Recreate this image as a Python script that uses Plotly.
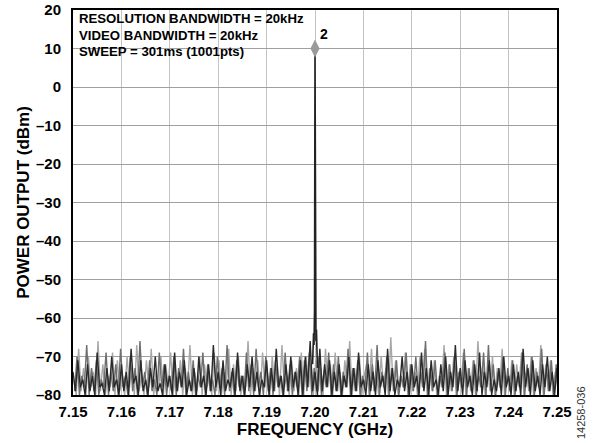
import numpy as np
import plotly.graph_objects as go

# Sweep span (GHz)
f_start, f_stop = 7.15, 7.25

# Noise-floor sweeps (dBm), 201 samples each across the span
noise_dark = [
    -74,-79,-71,-78,-76,-80,-72,-79,-75,-80,-69,-78,-77,-80,-73,-79,-70,-78,-76,-80,
    -72,-79,-74,-80,-68,-77,-75,-80,-71,-79,-76,-80,-73,-78,-70,-79,-77,-80,-72,-78,
    -75,-80,-69,-79,-74,-78,-71,-80,-76,-79,-73,-80,-70,-78,-75,-80,-72,-79,-67,-78,
    -74,-80,-71,-79,-76,-78,-73,-80,-69,-79,-75,-80,-72,-78,-70,-79,-74,-80,-76,-78,
    -71,-80,-73,-79,-68,-78,-75,-80,-72,-79,-70,-78,-74,-80,-71,-80,-70,-78,-66,-79,
    -74,
    -80,-68,-79,-72,-78,-71,-80,-74,-79,-72,-80,-75,-78,-70,-80,-73,-79,-69,-78,-76,
    -80,-72,-79,-74,-80,-71,-78,-75,-80,-68,-79,-73,-80,-76,-78,-70,-79,-74,-80,-72,
    -78,-75,-80,-69,-79,-73,-80,-71,-78,-76,-80,-72,-79,-70,-80,-74,-78,-67,-79,-73,
    -80,-71,-78,-75,-80,-72,-79,-69,-80,-74,-78,-71,-80,-76,-79,-73,-80,-70,-78,-75,
    -80,-72,-79,-74,-80,-68,-78,-73,-80,-71,-79,-75,-80,-72,-78,-70,-79,-74,-80,-73,
]
noise_mid = [
    -79,-70,-80,-75,-78,-67,-80,-73,-79,-71,-80,-76,-78,-69,-80,-74,-79,-72,-80,-68,
    -78,-75,-80,-70,-79,-73,-80,-66,-78,-74,-80,-71,-79,-76,-80,-69,-78,-72,-80,-75,
    -79,-70,-80,-73,-78,-68,-80,-74,-79,-71,-80,-75,-78,-69,-80,-72,-79,-76,-80,-70,
    -78,-73,-80,-67,-79,-74,-80,-71,-78,-75,-80,-69,-79,-72,-80,-68,-78,-74,-80,-70,
    -79,-73,-80,-71,-78,-75,-80,-69,-79,-72,-80,-74,-78,-70,-80,-71,-79,-69,-80,-73,
    -79,
    -70,-80,-74,-78,-69,-80,-72,-79,-70,-80,-74,-78,-68,-80,-73,-79,-71,-80,-75,-78,
    -69,-80,-72,-79,-67,-80,-74,-78,-70,-80,-73,-79,-71,-80,-75,-78,-69,-80,-72,-79,
    -70,-80,-74,-78,-66,-80,-73,-79,-71,-80,-75,-78,-69,-80,-72,-79,-70,-80,-74,-78,
    -68,-80,-73,-79,-71,-80,-75,-78,-69,-80,-67,-79,-72,-80,-74,-78,-70,-80,-73,-79,
    -71,-80,-75,-78,-69,-80,-72,-79,-70,-80,-74,-78,-68,-80,-73,-79,-71,-80,-72,-78,
]
noise_light = [
    -76,-80,-68,-79,-73,-80,-70,-78,-74,-80,-66,-79,-72,-80,-75,-78,-69,-80,-71,-79,
    -74,-80,-70,-78,-73,-80,-67,-79,-75,-80,-71,-78,-68,-80,-74,-79,-70,-80,-72,-78,
    -69,-80,-75,-79,-71,-80,-73,-78,-67,-80,-74,-79,-70,-80,-72,-78,-75,-80,-69,-79,
    -71,-80,-74,-78,-68,-80,-72,-79,-70,-80,-75,-78,-66,-80,-73,-79,-71,-80,-69,-78,
    -74,-80,-70,-79,-72,-80,-67,-78,-75,-80,-71,-79,-73,-80,-69,-80,-70,-78,-72,-80,
    -71,
    -79,-73,-80,-68,-78,-72,-80,-69,-79,-74,-80,-71,-78,-66,-80,-73,-79,-70,-80,-75,
    -72,-80,-68,-79,-74,-80,-70,-78,-73,-80,-65,-79,-71,-80,-75,-78,-69,-80,-72,-79,
    -74,-80,-70,-78,-68,-80,-73,-79,-71,-80,-75,-78,-67,-80,-72,-79,-70,-80,-74,-78,
    -69,-80,-73,-79,-71,-80,-66,-78,-72,-80,-74,-79,-70,-80,-73,-78,-68,-80,-75,-79,
    -71,-80,-72,-78,-69,-80,-74,-79,-70,-80,-73,-78,-67,-80,-72,-79,-71,-80,-74,-78,
]

# Carrier (marker 2) with its narrow skirt
peak_freq = [7.1995, 7.1997, 7.1998, 7.1999, 7.2000, 7.2001, 7.2002, 7.2003, 7.2005]
peak_level = [-72, -64, -67, -58, 10, -60, -66, -63, -73]
marker_freq = [7.20]
marker_level = [10]
marker_label = "2"

settings_lines = ["RESOLUTION BANDWIDTH = 20kHz", "VIDEO BANDWIDTH = 20kHz", "SWEEP = 301ms (1001pts)"]

x_ticks = [7.15, 7.16, 7.17, 7.18, 7.19, 7.20, 7.21, 7.22, 7.23, 7.24, 7.25]
x_tick_text = ["7.15", "7.16", "7.17", "7.18", "7.19", "7.20", "7.21", "7.22", "7.23", "7.24", "7.25"]
y_ticks = [20, 10, 0, -10, -20, -30, -40, -50, -60, -70, -80]
y_tick_text = ["20", "10", "0", "–10", "–20", "–30", "–40", "–50", "–60", "–70", "–80"]

fig = go.Figure()
traces = [(noise_light, "#a8a8a8", 1/3, 1.4), (noise_mid, "#6e6e6e", 2/3, 1.4), (noise_dark, "#2a2a2a", 0.0, 1.4)]
for vals, col, frac, w in traces:
    step = (f_stop - f_start) / (len(vals) - 1)
    fx = np.linspace(f_start, f_stop, len(vals)) + frac * step
    fig.add_trace(go.Scatter(x=fx, y=vals, mode="lines",
                             line=dict(color=col, width=w), showlegend=False))

fig.add_trace(go.Scatter(x=peak_freq, y=peak_level, mode="lines",
                         line=dict(color="#222222", width=1.6), showlegend=False))
fig.add_trace(go.Scatter(x=marker_freq, y=marker_level, mode="markers",
                         marker=dict(symbol="diamond-tall", size=13, color="#9a9a9a"),
                         showlegend=False))

tickf = dict(family="Liberation Sans", size=15, color="black", weight="bold")
titlef = dict(family="Liberation Sans", size=17, color="black", weight="bold")

fig.update_layout(
    width=595, height=443,
    margin=dict(l=73, r=38, t=10, b=48, autoexpand=False),
    paper_bgcolor="white", plot_bgcolor="white",
    font=dict(family="Liberation Sans", color="black"),
    xaxis=dict(range=[f_start, f_stop], tickvals=x_ticks, ticktext=x_tick_text,
               showgrid=True, gridcolor="#c4c4c4", gridwidth=1,
               showline=True, linecolor="black", linewidth=2, mirror=True,
               ticks="", tickfont=tickf, zeroline=False, automargin=False,
               ticklabelstandoff=2,
               title=dict(text="FREQUENCY (GHz)", font=titlef, standoff=2)),
    yaxis=dict(range=[-80, 20], tickvals=y_ticks, ticktext=y_tick_text,
               showgrid=True, gridcolor="#a0a0a0", gridwidth=1,
               showline=True, linecolor="black", linewidth=2, mirror=True,
               ticks="", tickfont=tickf, zeroline=False, automargin=False,
               ticklabelstandoff=7, ticklabeloverflow="allow",
               title=dict(text="POWER OUTPUT (dBm)", font=titlef, standoff=2)),
)

fig.add_shape(type="rect", xref="paper", yref="paper", x0=0.003, x1=0.486, y0=0.852, y1=0.996,
              fillcolor="white", line=dict(width=0), layer="between")

for line_text, ypos in zip(settings_lines, [0.977, 0.934, 0.891]):
    fig.add_annotation(xref="paper", yref="paper", x=0.008, y=ypos, xanchor="left", yanchor="middle",
                       align="left", showarrow=False, text=line_text,
                       font=dict(family="Liberation Sans", size=13.2, color="black", weight="bold"))

fig.add_annotation(x=marker_freq[0], y=marker_level[0], text=marker_label, showarrow=False,
                   xanchor="left", xshift=3, yshift=15,
                   font=dict(family="Liberation Sans", size=14, color="black", weight="bold"))

fig.add_annotation(xref="paper", yref="paper", x=1.0496, y=-0.047, xanchor="center", yanchor="middle",
                   textangle=-90, showarrow=False, text="14258-036",
                   font=dict(family="Liberation Sans", size=11, color="#333333"))

# remove the browser's default 8 px page margin so the figure fills the window exactly
fig.write_html("out.html", config={"displayModeBar": False},
               post_script="document.body.style.margin='0px';")
